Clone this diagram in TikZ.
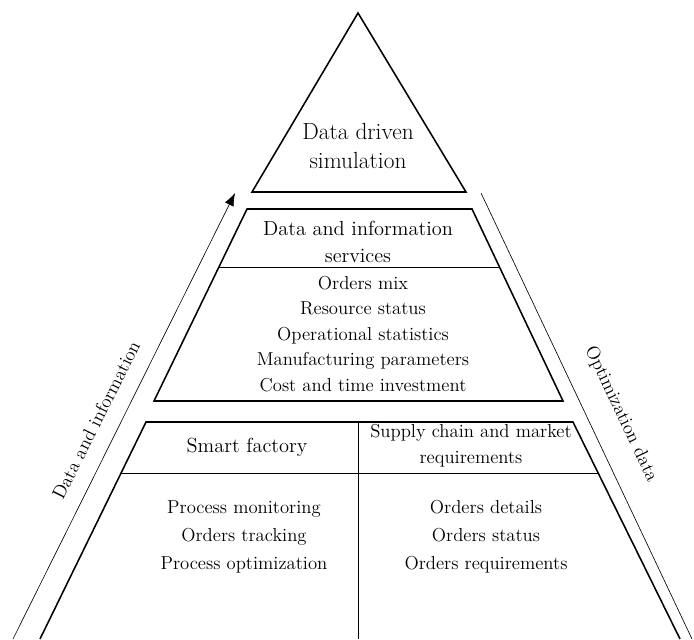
\documentclass[tikz,border=0pt]{standalone}
\usetikzlibrary{arrows.meta, positioning}

\begin{document}
\begin{tikzpicture}[
        x=0.025cm, y=-0.025cm,
        every node/.style={align=center, inner sep=0pt},
        layer/.style={line width=1.1pt, line join=miter},
        divider/.style={line width=0.7pt},
        flow/.style={line width=0.45pt}
    ]

    \tikzset{
    heading/.style={font=\fontsize{14.5}{19.5}\selectfont},
    items/.style={font=\fontsize{13.3}{18.2}\selectfont},
    apex/.style={font=\fontsize{16.6}{20}\selectfont}
}

    \useasboundingbox (0,0) rectangle (694,639);

    % pyramid layers
    \draw[layer] (358,13) -- (466,192) -- (252,192) -- cycle;
    \draw[layer] (247,209) -- (472,209) -- (563,401) -- (154,401) -- cycle;
    \draw[layer] (40,639) -- (146,422) -- (573,422) -- (680,639);
    \draw[divider] (219,267) -- (500,267);
    \draw[divider] (121,473) -- (598,473);
    \draw[divider] (358,422) -- (358,639);

    \node[apex] (sim) at (358,146) {Data driven\\simulation};
    \node[heading] (services) at (358,242) {Data and information\\services};
    \node[items] (servlist) at (363,334) {Orders mix\\Resource status\\Operational statistics\\Manufacturing parameters\\Cost and time investment};
    \node[heading] (factory) at (247,447) {Smart factory};
    \node[items] (supply) at (471,446) {Supply chain and market\\requirements};
    \node[items, font=\fontsize{13.3}{20}\selectfont] (factlist) at (244,537) {Process monitoring\\Orders tracking\\Process optimization};
    \node[items, font=\fontsize{13.3}{20}\selectfont] (suplist) at (486,537) {Orders details\\Orders status\\Orders requirements};

    % flows along the sides
    \coordinate (upStart) at (13,639);
    \coordinate (upEnd) at (235,193);
    \coordinate (downStart) at (481,193);
    \coordinate (downEnd) at (692,639);
    \draw[flow, -{Latex[length=3.2mm, width=2.4mm]}] (upStart) -- (upEnd);
    \draw[flow] (downStart) -- (downEnd);

    \node[items, rotate=63.5] (up) at (96,420) {Data and information};
    \node[items, rotate=-64.7] (down) at (621,414) {Optimization data};
\end{tikzpicture}
\end{document}
